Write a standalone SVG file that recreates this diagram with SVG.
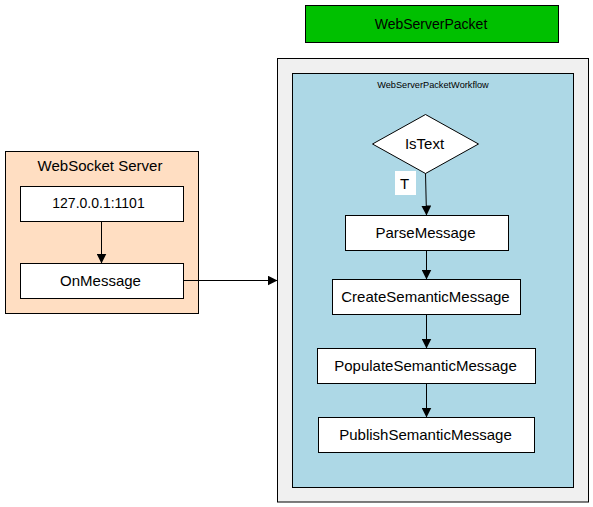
<svg xmlns="http://www.w3.org/2000/svg" width="593" height="507" viewBox="0 0 593 507">
<style>
text{font-family:"Liberation Sans",Arial,sans-serif;font-size:15px;fill:#000;text-anchor:middle;dominant-baseline:central}
.s14{font-size:14px}
.b{stroke:#000;stroke-width:1}
.w{fill:#fff;stroke:#000;stroke-width:1}
.c{stroke:#000;stroke-width:1;fill:none;marker-end:url(#a)}
</style>
<defs>
<marker id="a" viewBox="0 0 10 10" refX="10" refY="5" markerWidth="10" markerHeight="10" markerUnits="userSpaceOnUse" orient="auto">
<path d="M0,0 L10,5 L0,10 z" fill="#000"/>
</marker>
</defs>
<rect width="593" height="507" fill="#fff"/>
<g id="webserverpacket">
<rect class="b" x="305.5" y="5.5" width="253" height="37" fill="#00C000"/>
<text class="s14" x="431" y="23.5">WebServerPacket</text>
</g>
<g id="outer">
<rect class="b" x="277.5" y="58.5" width="311" height="443.5" fill="#F0F0F0"/>
</g>
<g id="workflow">
<rect class="b" x="292.5" y="73.5" width="281" height="414" fill="#ADD8E6"/>
<text x="433" y="85" style="font-size:9.2px">WebServerPacketWorkflow</text>
</g>
<g id="websocket">
<rect class="b" x="5.5" y="151.5" width="193" height="162" fill="#FFDEC2"/>
<text x="100" y="165">WebSocket Server</text>
</g>
<g id="addr">
<rect class="w" x="20.5" y="186.5" width="163" height="35"/>
<text class="s14" x="98.5" y="203">127.0.0.1:1101</text>
</g>
<g id="onmessage">
<rect class="w" x="20.5" y="263.5" width="163" height="35"/>
<text x="100.5" y="280">OnMessage</text>
</g>
<g id="istext">
<polygon class="w" points="425.5,114.5 478.5,144 425.5,173.5 372.5,144"/>
<text x="424.5" y="143">IsText</text>
</g>
<g id="parsemessage">
<rect class="w" x="345.5" y="215.5" width="163" height="35"/>
<text x="425.5" y="232">ParseMessage</text>
</g>
<g id="createsemanticmessage">
<rect class="w" x="332.5" y="279.5" width="188" height="35"/>
<text x="425.5" y="296">CreateSemanticMessage</text>
</g>
<g id="populatesemanticmessage">
<rect class="w" x="317.5" y="348.5" width="218" height="35"/>
<text x="425.5" y="365">PopulateSemanticMessage</text>
</g>
<g id="publishsemanticmessage">
<rect class="w" x="318.5" y="417.5" width="216" height="35"/>
<text x="425.5" y="434">PublishSemanticMessage</text>
</g>
<g id="connectors">
<path class="c" d="M101.5,221.5 L101.5,263.5"/>
<path class="c" d="M183.5,280.5 L277.5,280.5"/>
<path class="c" d="M425.5,173.5 L426.5,215.5"/>
<rect x="395" y="171" width="21" height="24" fill="#fff"/>
<text x="404.5" y="183">T</text>
<path class="c" d="M426.5,250.5 L426.5,279.5"/>
<path class="c" d="M426.5,314.5 L426.5,348.5"/>
<path class="c" d="M426.5,383.5 L426.5,417.5"/>
</g>
</svg>
